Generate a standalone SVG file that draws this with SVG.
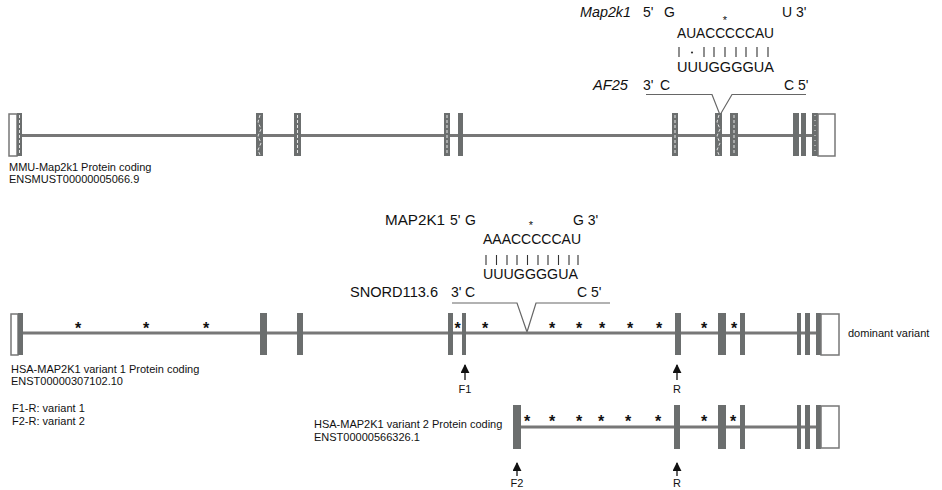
<svg xmlns="http://www.w3.org/2000/svg" width="942" height="490" viewBox="0 0 942 490">
<style>
text{font-family:"Liberation Sans",Arial,sans-serif;fill:#111}
.lbl{font-size:11px}
.rna{font-size:14px}
.it{font-style:italic}
.star{font-size:16px;font-weight:bold;text-anchor:middle}
.ast{font-size:11px;text-anchor:middle}
.intron{stroke:#777;stroke-width:3;fill:none}
.ex{fill:#6b6e6e}
.utr{fill:#fff;stroke:#777;stroke-width:1.5}
.hatch{stroke:#e6e6e6;stroke-width:1;stroke-dasharray:3 2;fill:none}
.bar{stroke:#333;stroke-width:1.1;fill:none}
.brk{stroke:#666;stroke-width:1.2;fill:none}
.arr{stroke:#111;stroke-width:1.3;fill:none}
</style>
<defs>
<marker id="ah" viewBox="0 0 10 10" refX="9" refY="5" markerUnits="userSpaceOnUse" markerWidth="9" markerHeight="9" orient="auto">
<path d="M0,0 L10,5 L0,10 Z" fill="#111"/>
</marker>
</defs>

<!-- Mouse header -->
<g id="mouse-duplex">
<text class="rna it" x="580" y="17" textLength="51" lengthAdjust="spacingAndGlyphs">Map2k1</text>
<text class="rna" x="643" y="17">5'</text>
<text class="rna" x="664" y="17">G</text>
<text class="rna" x="782" y="17">U 3'</text>
<text class="ast" x="725" y="24">*</text>
<text class="rna" x="677" y="38" textLength="97" lengthAdjust="spacingAndGlyphs">AUACCCCCAU</text>
<g class="bar">
<path d="M679,47V57M704,47V57M714,47V57M725,47V57M736,47V57M746,47V57M757,47V57M768,47V57"/>
</g>
<circle cx="692" cy="52.5" r="1.1" fill="#333"/>
<text class="rna" x="677" y="72" textLength="97" lengthAdjust="spacingAndGlyphs">UUUGGGGUA</text>
<text class="rna it" x="593" y="90" textLength="35" lengthAdjust="spacingAndGlyphs">AF25</text>
<text class="rna" x="643" y="90">3'</text>
<text class="rna" x="660" y="90">C</text>
<text class="rna" x="784" y="90">C 5'</text>
<path class="brk" d="M646,94.5H712L720,115L732,94.5H806"/>
</g>

<!-- Mouse transcript -->
<g id="mmu-map2k1">
<path class="intron" d="M22,135.5H812"/>
<rect class="utr" x="9" y="114" width="8" height="42"/>
<rect class="ex" x="17" y="113" width="5" height="43"/>
<path class="hatch" d="M19.5,115V154"/>
<rect class="ex" x="256" y="113" width="7" height="43"/>
<path class="hatch" d="M260,115L258,122L261,129L258,136L261,143L258,150L260,155"/>
<rect class="ex" x="294" y="113" width="7" height="43"/>
<path class="hatch" d="M297.5,115V154"/>
<rect class="ex" x="444" y="113" width="6" height="43"/>
<path class="hatch" d="M447,115V154"/>
<rect class="ex" x="458" y="113" width="5" height="43"/>
<rect class="ex" x="672" y="113" width="6" height="43"/>
<path class="hatch" d="M675,115V154"/>
<rect class="ex" x="715" y="113" width="7" height="43"/>
<path class="hatch" d="M719,115L717,122L720,129L717,136L720,143L717,150L719,155"/>
<rect class="ex" x="730" y="113" width="8" height="43"/>
<path class="hatch" d="M734,115V154"/>
<rect class="ex" x="793" y="113" width="6" height="43"/>
<rect class="ex" x="801" y="113" width="5" height="43"/>
<rect class="ex" x="812" y="113" width="6" height="43"/>
<path class="hatch" d="M815,115V154" style="stroke-dasharray:1 4"/>
<rect class="utr" x="818" y="114" width="17" height="42"/>
<text class="lbl" x="9" y="171">MMU-Map2k1 Protein coding</text>
<text class="lbl" x="9" y="183">ENSMUST00000005066.9</text>
</g>

<!-- Human header -->
<g id="human-duplex">
<text class="rna" x="385" y="225" textLength="60" lengthAdjust="spacingAndGlyphs">MAP2K1</text>
<text class="rna" x="450" y="225">5'</text>
<text class="rna" x="465" y="225">G</text>
<text class="rna" x="573" y="225">G 3'</text>
<text class="ast" x="531" y="229">*</text>
<text class="rna" x="483" y="244" textLength="98" lengthAdjust="spacingAndGlyphs">AAACCCCCAU</text>
<g class="bar">
<path d="M486,255V265M496.5,255V265M507,255V265M517,255V265M527.5,255V265M538,255V265M548,255V265M558.5,255V265M569,255V265M578,255V265"/>
</g>
<text class="rna" x="483" y="279" textLength="95" lengthAdjust="spacingAndGlyphs">UUUGGGGUA</text>
<text class="rna" x="350" y="297" textLength="88" lengthAdjust="spacingAndGlyphs">SNORD113.6</text>
<text class="rna" x="451" y="297">3'</text>
<text class="rna" x="465" y="297">C</text>
<text class="rna" x="577" y="297">C 5'</text>
<path class="brk" d="M452,303H517L527,332L536,303H610"/>
</g>

<!-- Human variant 1 -->
<g id="hsa-variant1">
<path class="intron" d="M23,333H817"/>
<rect class="utr" x="11" y="314" width="7" height="41"/>
<rect class="ex" x="18" y="313" width="5" height="42"/>
<rect class="ex" x="260" y="313" width="7" height="42"/>
<rect class="ex" x="297" y="313" width="6" height="42"/>
<rect class="ex" x="448" y="313" width="5" height="42"/>
<rect class="ex" x="462" y="313" width="4" height="42"/>
<rect class="ex" x="675" y="313" width="6" height="42"/>
<rect class="ex" x="718" y="313" width="8" height="42"/>
<rect class="ex" x="740" y="313" width="5" height="42"/>
<rect class="ex" x="797" y="313" width="4" height="42"/>
<rect class="ex" x="805" y="313" width="5" height="42"/>
<rect class="ex" x="816" y="313" width="5" height="42"/>
<rect class="utr" x="821" y="314" width="18" height="41"/>
<g>
<text class="star" x="78" y="334">*</text>
<text class="star" x="146" y="334">*</text>
<text class="star" x="206" y="334">*</text>
<text class="star" x="457.5" y="334">*</text>
<text class="star" x="485" y="334">*</text>
<text class="star" x="552" y="334">*</text>
<text class="star" x="579" y="334">*</text>
<text class="star" x="602" y="334">*</text>
<text class="star" x="630" y="334">*</text>
<text class="star" x="659" y="334">*</text>
<text class="star" x="704" y="334">*</text>
<text class="star" x="734" y="334">*</text>
</g>
<text class="lbl" x="848" y="337">dominant variant</text>
<text class="lbl" x="11" y="373">HSA-MAP2K1 variant 1 Protein coding</text>
<text class="lbl" x="11" y="385">ENST00000307102.10</text>
</g>

<!-- Human variant 2 -->
<g id="hsa-variant2">
<path class="intron" d="M521,427H816"/>
<rect class="ex" x="513" y="405" width="8" height="44"/>
<rect class="ex" x="674" y="405" width="6" height="44"/>
<rect class="ex" x="718" y="405" width="8" height="44"/>
<rect class="ex" x="740" y="405" width="5" height="44"/>
<rect class="ex" x="797" y="405" width="4" height="44"/>
<rect class="ex" x="805" y="405" width="5" height="44"/>
<rect class="ex" x="816" y="405" width="5" height="44"/>
<rect class="utr" x="821" y="406" width="18" height="42"/>
<g>
<text class="star" x="527" y="427">*</text>
<text class="star" x="552" y="427">*</text>
<text class="star" x="579" y="427">*</text>
<text class="star" x="601" y="427">*</text>
<text class="star" x="628" y="427">*</text>
<text class="star" x="658" y="427">*</text>
<text class="star" x="704" y="427">*</text>
<text class="star" x="733" y="427">*</text>
</g>
<text class="lbl" x="314" y="428">HSA-MAP2K1 variant 2 Protein coding</text>
<text class="lbl" x="314" y="441">ENST00000566326.1</text>
</g>

<g id="legend">
<text class="lbl" x="12" y="412">F1-R: variant 1</text>
<text class="lbl" x="12" y="425">F2-R: variant 2</text>
</g>

<!-- Primers -->
<g id="connectors">
<path class="arr" d="M465,380V365" marker-end="url(#ah)"/>
<path class="arr" d="M677,380V365" marker-end="url(#ah)"/>
<path class="arr" d="M517,476V463" marker-end="url(#ah)"/>
<path class="arr" d="M677,476V463" marker-end="url(#ah)"/>
</g>
<g id="primer-labels">
<text class="lbl" x="465" y="393" text-anchor="middle">F1</text>
<text class="lbl" x="677" y="393" text-anchor="middle">R</text>
<text class="lbl" x="517" y="487" text-anchor="middle">F2</text>
<text class="lbl" x="677" y="487" text-anchor="middle">R</text>
</g>
</svg>
